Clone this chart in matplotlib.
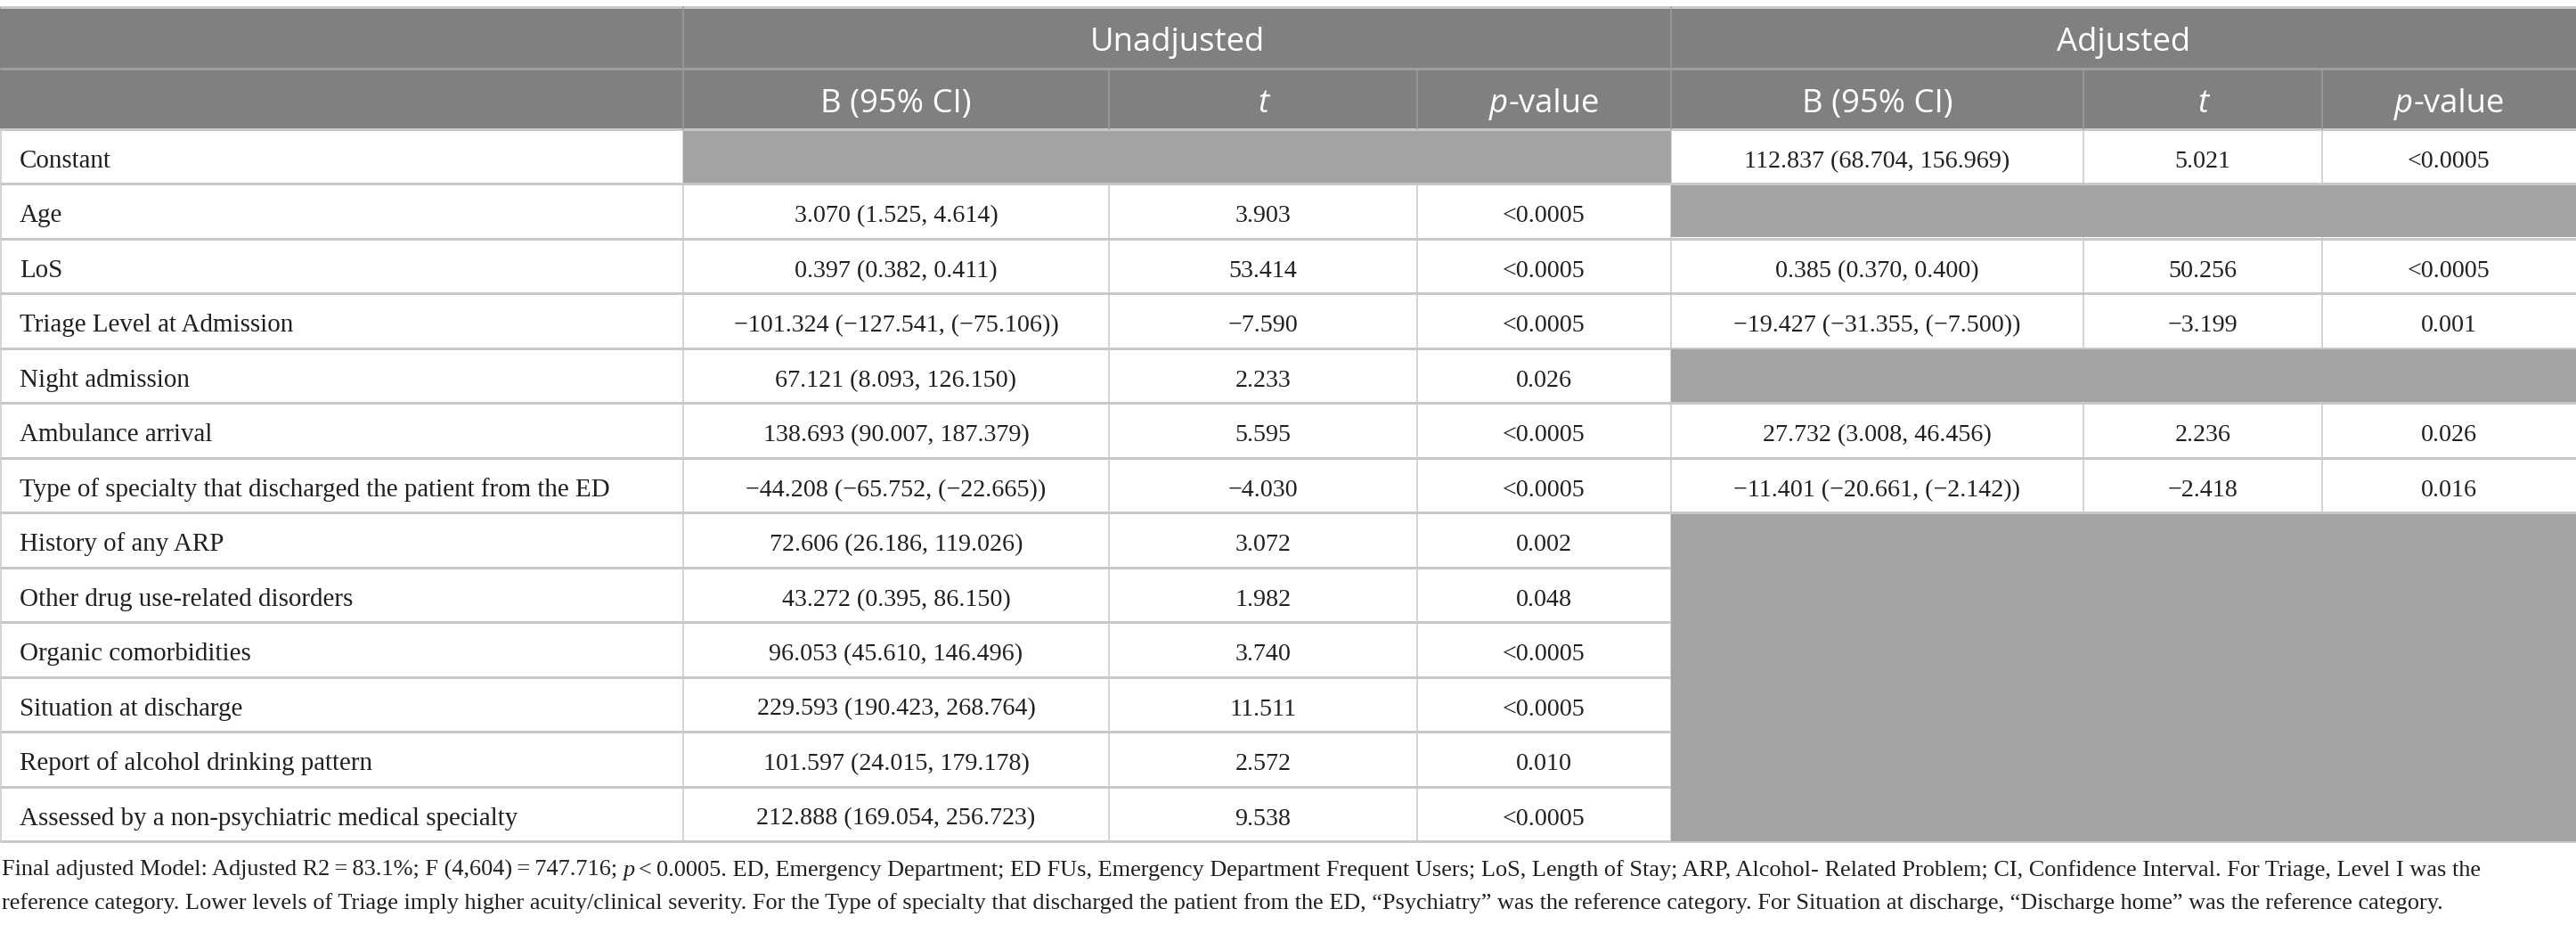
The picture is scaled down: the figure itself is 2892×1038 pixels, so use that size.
import matplotlib
matplotlib.use("Agg")
import matplotlib.pyplot as plt
from matplotlib.patches import Rectangle

# ---------------- data ----------------
group_headers = ["Unadjusted", "Adjusted"]
col_headers = ["B (95% CI)", "t", "p-value"]

variables = [
    "Constant", "Age", "LoS", "Triage Level at Admission", "Night admission",
    "Ambulance arrival", "Type of specialty that discharged the patient from the ED",
    "History of any ARP", "Other drug use-related disorders", "Organic comorbidities",
    "Situation at discharge", "Report of alcohol drinking pattern",
    "Assessed by a non-psychiatric medical specialty",
]
unadj_b = [None, "3.070 (1.525, 4.614)", "0.397 (0.382, 0.411)",
           "\u2212101.324 (\u2212127.541, (\u221275.106))", "67.121 (8.093, 126.150)",
           "138.693 (90.007, 187.379)", "\u221244.208 (\u221265.752, (\u221222.665))",
           "72.606 (26.186, 119.026)", "43.272 (0.395, 86.150)", "96.053 (45.610, 146.496)",
           "229.593 (190.423, 268.764)", "101.597 (24.015, 179.178)",
           "212.888 (169.054, 256.723)"]
unadj_t = [None, "3.903", "53.414", "\u22127.590", "2.233", "5.595", "\u22124.030",
           "3.072", "1.982", "3.740", "11.511", "2.572", "9.538"]
unadj_p = [None, "<0.0005", "<0.0005", "<0.0005", "0.026", "<0.0005", "<0.0005",
           "0.002", "0.048", "<0.0005", "<0.0005", "0.010", "<0.0005"]
adj_b = ["112.837 (68.704, 156.969)", None, "0.385 (0.370, 0.400)",
         "\u221219.427 (\u221231.355, (\u22127.500))", None, "27.732 (3.008, 46.456)",
         "\u221211.401 (\u221220.661, (\u22122.142))", None, None, None, None, None, None]
adj_t = ["5.021", None, "50.256", "\u22123.199", None, "2.236", "\u22122.418",
         None, None, None, None, None, None]
adj_p = ["<0.0005", None, "<0.0005", "0.001", None, "0.026", "0.016",
         None, None, None, None, None, None]

footnote_1a = "Final adjusted Model: Adjusted R2\u2009=\u200983.1%; F (4,604)\u2009=\u2009747.716;"
footnote_1b = "p"
footnote_1c = "<\u20090.0005. ED, Emergency Department; ED FUs, Emergency Department Frequent Users; LoS, Length of Stay; ARP, Alcohol- Related Problem; CI, Confidence Interval. For Triage, Level I was the"
footnote_2 = "reference category. Lower levels of Triage imply higher acuity/clinical severity. For the Type of specialty that discharged the patient from the ED, \u201cPsychiatry\u201d was the reference category. For Situation at discharge, \u201cDischarge home\u201d was the reference category."

# ---------------- layout ----------------
W, H = 2892, 1038
fig = plt.figure(figsize=(W / 100, H / 100), dpi=100)
ax = fig.add_axes([0, 0, 1, 1])
ax.set_xlim(0, W)
ax.set_ylim(H, 0)
ax.axis("off")

col_x = [0, 767, 1245, 1591, 1876, 2339, 2607, 2892]
y_top, y_h1, y_h2 = 8, 77, 145
y_bot = 944
n = len(variables)
rh = (y_bot - y_h2) / n

HEAD = "#7f817f"
GRAY = "#a3a3a3"
LINE = "#c8c8c8"
HLINE = "#9c9d9c"
SANS = "Open Sans"
SERIF = "Liberation Serif"
label_fs = 20.9
num_fs = 20.2
head_fs = 26.3
foot_fs = 18.9

def px(p):
    return p * 0.72

# header background
ax.add_patch(Rectangle((0, y_top), W, y_h2 - y_top, facecolor=HEAD, edgecolor="none", zorder=1))
ax.plot([0, W], [y_top, y_top], color=LINE, lw=px(3), zorder=3, solid_capstyle="butt")
ax.plot([0, W], [y_h1, y_h1], color=HLINE, lw=px(3), zorder=3, solid_capstyle="butt")
for cx in [767, 1876]:
    ax.plot([cx, cx], [y_top, y_h2], color=HLINE, lw=px(1.5), zorder=3)
for cx in [1245, 1591, 2339, 2607]:
    ax.plot([cx, cx], [y_h1, y_h2], color=HLINE, lw=px(1.5), zorder=3)

# body grid lines
for i in range(n + 1):
    yy = y_h2 + i * rh
    ax.plot([0, W], [yy, yy], color=LINE, lw=px(3), zorder=2, solid_capstyle="butt")
for cx in col_x[1:-1]:
    ax.plot([cx, cx], [y_h2, y_bot], color=LINE, lw=px(1.5), zorder=2)
ax.plot([0.5, 0.5], [y_h2, y_bot], color=LINE, lw=px(1.5), zorder=2)

# gray (empty) blocks
def gray_block(c0, c1, r0, r1):
    ax.add_patch(Rectangle((col_x[c0], y_h2 + r0 * rh + 1.5), col_x[c1] - col_x[c0],
                           (r1 - r0) * rh - 3 if r1 < n else (r1 - r0) * rh - 1.5,
                           facecolor=GRAY, edgecolor="none", zorder=2.5))

cols = [unadj_b, unadj_t, unadj_p, adj_b, adj_t, adj_p]
for g, (c0, c1) in enumerate([(1, 4), (4, 7)]):
    data = cols[g * 3]
    i = 0
    while i < n:
        if data[i] is None:
            j = i
            while j < n and data[j] is None:
                j += 1
            gray_block(c0, c1, i, j)
            i = j
        else:
            i += 1

fig.canvas.draw()
rend = fig.canvas.get_renderer()

def width(s, **kw):
    t = ax.text(0, 0, s, **kw)
    w = t.get_window_extent(renderer=rend).width
    t.remove()
    return w

# header text
for k, gname in enumerate(group_headers):
    x0 = col_x[1 + 3 * k]
    x1 = col_x[4 + 3 * k]
    ax.text((x0 + x1) / 2, 57, gname, ha="center", va="baseline", color="white",
            family=SANS, fontsize=head_fs, zorder=5)
for k in range(2):
    for j in range(3):
        c = 1 + 3 * k + j
        xc = (col_x[c] + col_x[c + 1]) / 2
        h = col_headers[j]
        if h == "t":
            ax.text(xc, 126, "t", ha="center", va="baseline", color="white", family=SANS,
                    fontsize=head_fs, fontstyle="italic", zorder=5)
        elif h == "p-value":
            w1 = width("p", family=SANS, fontsize=head_fs, fontstyle="italic")
            w2 = width("-value", family=SANS, fontsize=head_fs)
            xs = xc - (w1 + w2) / 2
            ax.text(xs, 126, "p", ha="left", va="baseline", color="white", family=SANS,
                    fontsize=head_fs, fontstyle="italic", zorder=5)
            ax.text(xs + w1 + 1, 126, "-value", ha="left", va="baseline", color="white",
                    family=SANS, fontsize=head_fs, zorder=5)
        else:
            ax.text(xc, 126, h, ha="center", va="baseline", color="white", family=SANS,
                    fontsize=head_fs, zorder=5)

# body text
TXT = "#231f20"
for i, var in enumerate(variables):
    yb = y_h2 + i * rh + 43
    ax.text(22, yb, var, ha="left", va="baseline", color=TXT, family=SERIF,
            fontsize=label_fs, zorder=5)
    for c, data in enumerate(cols):
        v = data[i]
        if v is None:
            continue
        xc = (col_x[c + 1] + col_x[c + 2]) / 2
        ax.text(xc, yb, v, ha="center", va="baseline", color=TXT, family=SERIF,
                fontsize=num_fs, zorder=5)

# footnote
sp = width("x x", family=SERIF, fontsize=foot_fs) - width("xx", family=SERIF, fontsize=foot_fs)
x = 2
ax.text(x, 983, footnote_1a, ha="left", va="baseline", color=TXT, family=SERIF, fontsize=foot_fs)
x += width(footnote_1a, family=SERIF, fontsize=foot_fs) + sp
ax.text(x, 983, footnote_1b, ha="left", va="baseline", color=TXT, family=SERIF,
        fontsize=foot_fs, fontstyle="italic")
x += width(footnote_1b, family=SERIF, fontsize=foot_fs, fontstyle="italic") + sp * 0.6
ax.text(x, 983, footnote_1c, ha="left", va="baseline", color=TXT, family=SERIF, fontsize=foot_fs)
ax.text(2, 1020, footnote_2, ha="left", va="baseline", color=TXT, family=SERIF, fontsize=foot_fs)

fig.savefig("out.png", dpi=100)
